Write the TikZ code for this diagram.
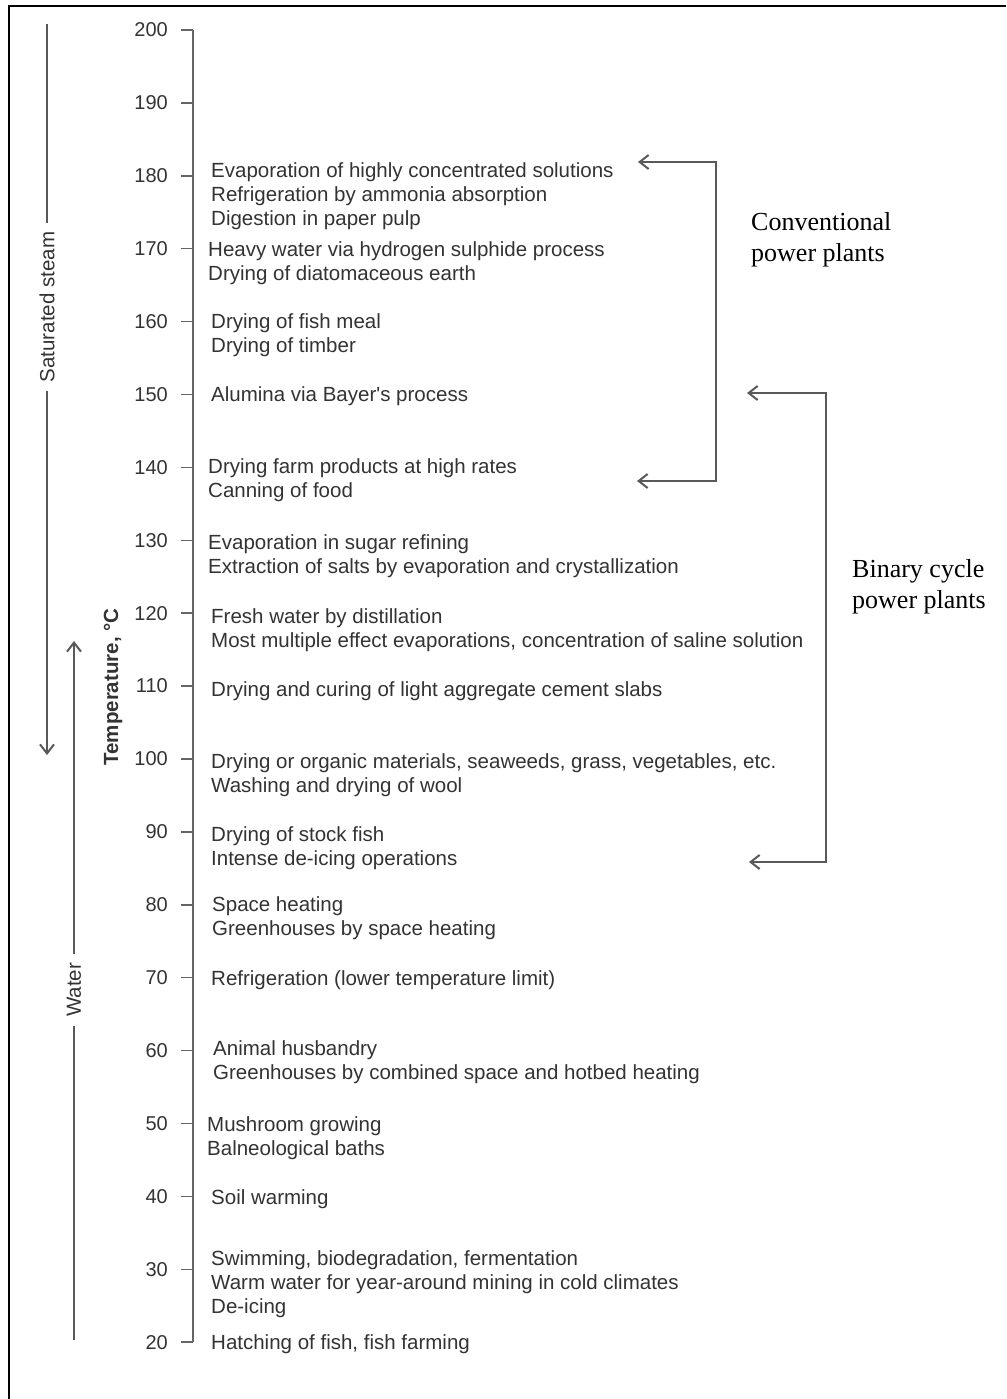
\documentclass[tikz,border=0pt]{standalone}
\usepackage{fontspec}
\setmainfont{Liberation Sans}
\newfontfamily\plantfont{Liberation Serif}
\usetikzlibrary{arrows.meta}
\definecolor{ink}{HTML}{333333}
\definecolor{rulegray}{HTML}{666666}
\tikzset{
  usetext/.style={anchor=west, inner sep=0pt, align=left, text=ink, font=\fontsize{20.5}{24}\selectfont},
  tempnum/.style={anchor=east, inner sep=0pt, text=ink, font=\fontsize{20}{24}\selectfont},
  sidetext/.style={rotate=90, inner sep=9pt, text=ink, font=\fontsize{20.5}{24}\selectfont},
  barb/.tip={Straight Barb[length=9pt,width=14pt,line width=2pt]},
  bracket/.style={draw=black!65, line width=1.6pt, barb-barb},
  plants/.style={anchor=west, inner sep=0pt, align=left, font=\plantfont\fontsize{26}{31}\selectfont},
}
\begin{document}
\begin{tikzpicture}[x=1pt, y=-1pt]
\useasboundingbox[fill=white] (0,0) rectangle (1006,1399);
\draw[line width=2pt] (8.5,1399) -- (8.5,6.5) -- (1006,6.5);

\foreach \t in {20,30,...,200} {
        \coordinate (k\t) at (193,{30+(200-\t)*7.29});
        \node[tempnum] (n\t) at (168,{30+(200-\t)*7.29}) {\t};
        \draw[rulegray, line width=1.5pt] (k\t) -- ++(-12,0);
    }
\draw[rulegray, line width=1.5pt] (k200) -- (k20);

\foreach \x/\y/\txt in {
        211/196/{Evaporation of highly concentrated solutions\\Refrigeration by ammonia absorption\\Digestion in paper pulp},
        208/263/{Heavy water via hydrogen sulphide process\\Drying of diatomaceous earth},
        211/335/{Drying of fish meal\\Drying of timber},
        211/396/{Alumina via Bayer\textquotesingle s process},
        208/480/{Drying farm products at high rates\\Canning of food},
        208/556/{Evaporation in sugar refining\\Extraction of salts by evaporation and crystallization},
        211/630/{Fresh water by distillation\\Most multiple effect evaporations, concentration of saline solution},
        211/691/{Drying and curing of light aggregate cement slabs},
        211/775/{Drying or organic materials, seaweeds, grass, vegetables, etc.\\Washing and drying of wool},
        211/848/{Drying of stock fish\\Intense de-icing operations},
        212/918/{Space heating\\Greenhouses by space heating},
        211/980/{Refrigeration (lower temperature limit)},
        213/1062/{Animal husbandry\\Greenhouses by combined space and hotbed heating},
        207/1138/{Mushroom growing\\Balneological baths},
        211/1199/{Soil warming},
        211/1284/{Swimming, biodegradation, fermentation\\Warm water for year-around mining in cold climates\\De-icing},
        211/1344/{Hatching of fish, fish farming}} {
        \node[usetext] (use\y) at (\x,\y) {\txt};
    }

\node[rotate=90, inner sep=0pt, text=ink, font=\bfseries\fontsize{20.5}{24}\selectfont] (templabel) at (113,687) {Temperature, °C};

\node[sidetext] (steam) at (47,307) {Saturated steam};
\coordinate (steamtop) at (47,24);
\coordinate (steamend) at (47,755);
\draw[black!65, line width=1.5pt] (steamtop) -- (steam.east);
\draw[black!65, line width=1.5pt, -barb] (steam.west) -- (steamend);

\node[sidetext] (water) at (74,990) {Water};
\coordinate (waterend) at (74,641);
\coordinate (waterbot) at (74,1340);
\draw[black!65, line width=1.5pt, -barb] (water.east) -- (waterend);
\draw[black!65, line width=1.5pt] (water.west) -- (waterbot);

\coordinate (cv1) at (638,162);
\coordinate (cv2) at (716,162);
\coordinate (cv3) at (716,481);
\coordinate (cv4) at (637,481);
\draw[bracket] (cv1) -- (cv2) -- (cv3) -- (cv4);
\node[plants] (conv) at (751,240) {Conventional\\power plants};

\coordinate (bc1) at (747,393);
\coordinate (bc2) at (826,393);
\coordinate (bc3) at (826,862);
\coordinate (bc4) at (749,862);
\draw[bracket] (bc1) -- (bc2) -- (bc3) -- (bc4);
\node[plants] (binary) at (852,587) {Binary cycle\\power plants};
\end{tikzpicture}
\end{document}
